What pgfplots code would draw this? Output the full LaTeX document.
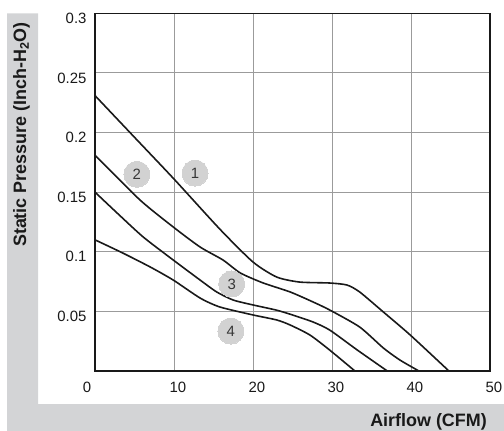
\documentclass[border=0pt]{standalone}
\usepackage{fontspec}
\setmainfont{Liberation Sans}
\usepackage{pgfplots}
\pgfplotsset{compat=1.18}
\definecolor{band}{RGB}{211,212,214}
\definecolor{gridc}{RGB}{155,155,155}
\definecolor{badge}{RGB}{210,210,210}
\definecolor{badgetext}{RGB}{55,55,55}
\definecolor{ink}{RGB}{25,25,25}
\newcommand{\bt}[1]{\fontsize{15}{17}\selectfont\color{badgetext}#1}
\begin{document}
\begin{tikzpicture}
\fill[band] (7bp,-13.3bp) -- (38bp,-13.3bp) -- (38bp,-404bp) -- (504bp,-404bp) -- (504bp,-431bp) -- (7bp,-431bp) -- cycle;
\node[rotate=90, anchor=base east, inner sep=0pt, font=\fontsize{18}{20}\selectfont\bfseries, text=ink] at (26bp,-22bp) {Static Pressure (Inch-H\textsubscript{2}O)};
\node[anchor=base east, inner sep=0pt, font=\fontsize{18}{20}\selectfont\bfseries, text=ink] at (487bp,-426.5bp) {Airflow (CFM)};
\begin{axis}[
  at={(95bp,-371bp)}, anchor=south west,
  scale only axis, width=395bp, height=357.7bp,
  xmin=0, xmax=50, ymin=0, ymax=0.3,
  axis line style={line width=1.5pt, ink},
  grid=major, major grid style={gridc, line width=1pt},
  major tick length=0pt,
  xtick={0,10,20,30,40,50},
  xticklabels={\makebox[0pt][c]{\hspace*{-24bp}0},10,20,30,40,50},
  ytick={0.05,0.1,0.15,0.2,0.25,0.3},
  yticklabels={0.05,0.1,0.15,0.2,0.25,0.3},
  scaled y ticks=false,
  tick label style={font=\fontsize{15}{17}\selectfont, text=ink},
  yticklabel style={xshift=-5bp, yshift=-5bp},
  xticklabel style={yshift=-8bp, xshift=4bp},
]
\addplot[ink, line width=1.6pt, smooth, tension=0.4] coordinates {
 (0,0.231) (5,0.196) (10,0.161) (15.8,0.119) (20,0.0914) (23,0.0788) (25.9,0.0746)
 (29.7,0.0738) (31.9,0.0721) (33.5,0.0663) (36.5,0.0495) (39.9,0.0302) (44.8,0)};
\addplot[ink, line width=1.6pt, smooth, tension=0.4] coordinates {
 (0,0.181) (5.7,0.1434) (9.9,0.1208) (13.3,0.104) (16.2,0.0931) (18.4,0.0822)
 (21.3,0.0738) (24.7,0.0663) (27.6,0.0579) (29.7,0.0512) (33.5,0.0369) (36.5,0.0193)
 (38.6,0.0092) (41,0)};
\addplot[ink, line width=1.6pt, smooth, tension=0.4] coordinates {
 (0,0.150) (2.8,0.1325) (6.1,0.1124) (9.9,0.0931) (13.3,0.0763) (15.4,0.0663)
 (17.5,0.0595) (20,0.0554) (23,0.051) (25,0.047) (27.6,0.0411) (29.7,0.0344)
 (33.2,0.0176) (37,0)};
\addplot[ink, line width=1.6pt, smooth, tension=0.4] coordinates {
 (0,0.110) (3.5,0.099) (7,0.0872) (9.9,0.0763) (13.3,0.0612) (15.8,0.0537)
 (20,0.047) (23,0.0428) (24.7,0.0386) (27.2,0.0302) (29.7,0.0176) (32.9,0)};
\addplot[badge, only marks, mark=*, mark size=13bp, mark options={fill=badge, draw=badge, line width=0pt}] coordinates {
 (12.66,0.166) (5.3,0.165) (17.3,0.073) (17.2,0.0335)};
\addplot[only marks, mark=text, text mark={\bt{1}}] coordinates {(12.66,0.166)};
\addplot[only marks, mark=text, text mark={\bt{2}}] coordinates {(5.3,0.165)};
\addplot[only marks, mark=text, text mark={\bt{3}}] coordinates {(17.3,0.073)};
\addplot[only marks, mark=text, text mark={\bt{4}}] coordinates {(17.2,0.0335)};
\end{axis}
\pgfresetboundingbox
\useasboundingbox (0bp,0bp) rectangle (504bp,-431bp);
\end{tikzpicture}
\end{document}
